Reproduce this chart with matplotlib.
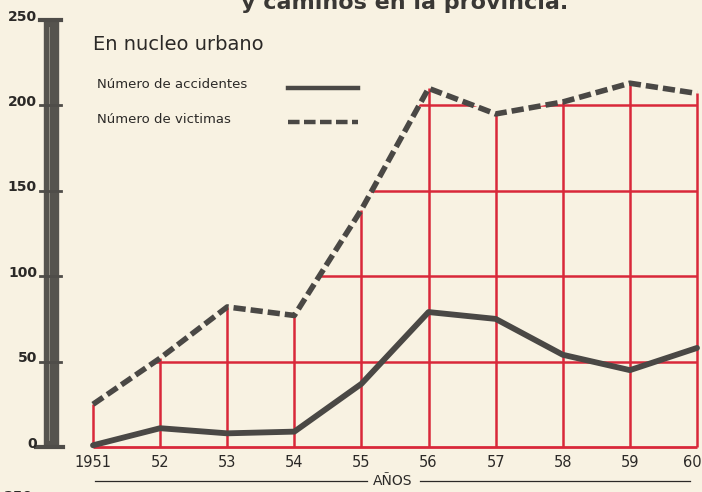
import matplotlib
matplotlib.use('Agg')
import matplotlib.pyplot as plt
import matplotlib.transforms as mtransforms
from matplotlib.patches import Polygon, Rectangle
from matplotlib.lines import Line2D

# values
years = [1951, 1952, 1953, 1954, 1955, 1956, 1957, 1958, 1959, 1960]
year_labels = ['1951', '52', '53', '54', '55', '56', '57', '58', '59', '60']
accidentes = [1, 11, 8, 9, 37, 79, 75, 54, 45, 58]
victimas = [25, 52, 82, 77, 139, 210, 195, 202, 213, 207]
y_ticks = [0, 50, 100, 150, 200, 250]

W, H = 702, 492
BG = '#f8f2e2'
RED = '#d9283a'
INK = '#4a4845'
TXT = '#2b2927'

fig = plt.figure(figsize=(W / 100, H / 100), dpi=100, facecolor=BG)
ax = fig.add_axes([93 / W, (H - 447) / H, 604 / W, 427 / H])
ax.set_facecolor(BG)
ax.set_xlim(1951, 1960)
ax.set_ylim(0, 250)
ax.axis('off')

# red grid, only under the victims curve
poly = Polygon([(years[0], 0)] + list(zip(years, victimas)) + [(years[-1], 0)],
               closed=True, facecolor='none', edgecolor='none')
ax.add_patch(poly)
ax.vlines(years, 0, victimas, color=RED, lw=1.8, clip_on=False, zorder=1)
ax.hlines(0, years[0], years[-1], color=RED, lw=2.0, clip_on=False, zorder=1)
for lvl in y_ticks[1:-1]:
    ln, = ax.plot([years[0], years[-1]], [lvl, lvl], color=RED, lw=1.8, zorder=1)
    ln.set_clip_path(poly)

# data lines
ax.plot(years, accidentes, color=INK, lw=4.2, solid_capstyle='round',
        solid_joinstyle='round', clip_on=False, zorder=3)
ax.plot(years, victimas, color=INK, lw=4.0, linestyle=(0, (2.2, 0.9)),
        clip_on=False, zorder=3)

# thermometer-like y axis
tr = mtransforms.blended_transform_factory(fig.transFigure, ax.transData)
ax.add_patch(Rectangle((44 / W, 0), 14 / W, 250, transform=tr, color='#55534e',
                       clip_on=False, zorder=2))
ax.add_artist(Line2D([49 / W, 49 / W], [4, 246], transform=tr, color='#9a968c',
                     lw=0.6, clip_on=False, zorder=3))
for v in y_ticks:
    x0, x1, lw = (40, 61, 2.0)
    if v == 0:
        x0, x1, lw = (36, 63, 3)
    if v == 250:
        x0, x1, lw = (40, 61, 3)
    ax.add_artist(Line2D([x0 / W, x1 / W], [v, v], transform=tr, color='#4f4d49',
                         lw=lw, clip_on=False, zorder=3))
    ax.text(37 / W, v + 2, str(v), transform=tr, ha='right', va='center',
            fontsize=10, fontweight='bold', color=TXT)

# x tick labels
for yr, lab in zip(years, year_labels):
    dx = -0.07 if lab == '60' else 0
    ax.text(yr + dx, -9, lab, ha='center', va='center', fontsize=10.5, color=TXT,
            clip_on=False)

# AÑOS with rules either side
fig.text(393 / W, 1 - 481 / H, 'AÑOS', ha='center', va='center', fontsize=10, color=TXT)
fig.add_artist(Line2D([95 / W, 367 / W], [1 - 481 / H] * 2, color=TXT, lw=0.9))
fig.add_artist(Line2D([420 / W, 690 / W], [1 - 481 / H] * 2, color=TXT, lw=0.9))

# legend block
fig.text(93 / W, 1 - 44 / H, 'En nucleo urbano', ha='left', va='center',
         fontsize=14, color=TXT)
fig.text(97 / W, 1 - 85 / H, 'Número de accidentes', ha='left', va='center',
         fontsize=9.5, color=TXT)
fig.text(97 / W, 1 - 119 / H, 'Número de victimas', ha='left', va='center',
         fontsize=9.5, color=TXT)
fig.add_artist(Line2D([288 / W, 358 / W], [1 - 88 / H] * 2, color=INK, lw=3.2))
fig.add_artist(Line2D([288 / W, 358 / W], [1 - 122 / H] * 2, color=INK, lw=3.2,
                      linestyle=(0, (2.6, 1.0))))

# cut-off title above and the next chart's label below
fig.text(405 / W, 1 - 9 / H, 'y caminos en la provincia.', ha='center',
         va='baseline', fontsize=16, fontweight='bold', color='#3a3835')
fig.text(4 / W, 1 - 497 / H, '250', ha='left', va='center', fontsize=10,
         fontweight='bold', color=TXT)

fig.savefig('out.png', dpi=100, facecolor=BG)
